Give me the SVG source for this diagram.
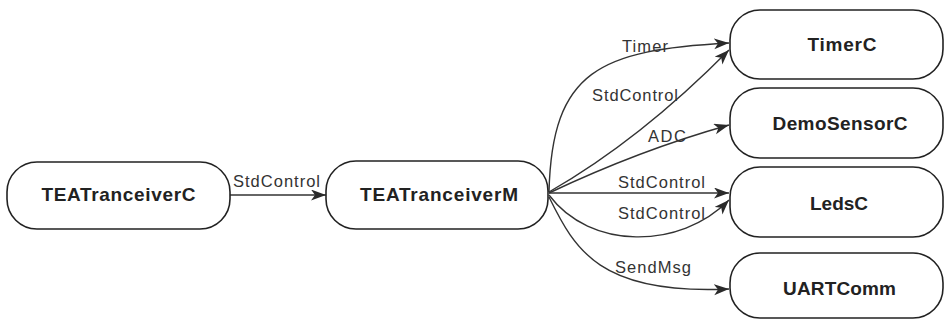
<svg xmlns="http://www.w3.org/2000/svg" width="945" height="320" viewBox="0 0 945 320">
<defs>
<marker id="arr" markerUnits="userSpaceOnUse" markerWidth="16" markerHeight="12" refX="15" refY="5.5" orient="auto">
<path d="M0,0 L15,5.5 L0,11 L4,5.5 z" fill="#2a2a2a"/>
</marker>
<style>
.node rect{fill:#fff;stroke:#222;stroke-width:1.6}
.node text{font-family:"Liberation Sans",Arial,sans-serif;font-weight:bold;font-size:19px;fill:#222;text-anchor:middle}
.edge{fill:none;stroke:#333;stroke-width:1.4;marker-end:url(#arr)}
.lbl{font-family:"Liberation Sans",Arial,sans-serif;font-size:16.5px;fill:#333}
</style>
</defs>
<rect width="945" height="320" fill="#fff"/>
<g id="connectors">
<path class="edge" d="M230,195 L326,195"/>
<path class="edge" d="M549,192 C552,70 600,50 729,43"/>
<path class="edge" d="M549,192 Q640,140 729,50"/>
<path class="edge" d="M549,193 Q640,150 729,125"/>
<path class="edge" d="M549,193 L729,193"/>
<path class="edge" d="M549,195 C590,250 680,250 729,200"/>
<path class="edge" d="M549,197 C575,250 600,295 729,289"/>
<text class="lbl" x="233" y="186.5" textLength="87" lengthAdjust="spacing">StdControl</text>
<text class="lbl" x="622" y="52" textLength="46" lengthAdjust="spacing">Timer</text>
<text class="lbl" x="592" y="101" textLength="86" lengthAdjust="spacing">StdControl</text>
<text class="lbl" x="648" y="142" textLength="38" lengthAdjust="spacing">ADC</text>
<text class="lbl" x="618" y="188" textLength="87" lengthAdjust="spacing">StdControl</text>
<text class="lbl" x="618" y="219" textLength="87" lengthAdjust="spacing">StdControl</text>
<text class="lbl" x="615" y="273" textLength="76" lengthAdjust="spacing">SendMsg</text>
</g>
<g id="TEATranceiverC" class="node">
<rect x="7" y="162" width="223" height="67" rx="30" ry="30"/>
<text x="118.5" y="200.5" textLength="154" lengthAdjust="spacing">TEATranceiverC</text>
</g>
<g id="TEATranceiverM" class="node">
<rect x="326" y="161" width="222" height="68" rx="30" ry="30"/>
<text x="439" y="200.5" textLength="158" lengthAdjust="spacing">TEATranceiverM</text>
</g>
<g id="TimerC" class="node">
<rect x="730" y="10" width="213" height="69" rx="30" ry="30"/>
<text x="842" y="50.5" textLength="69" lengthAdjust="spacing">TimerC</text>
</g>
<g id="DemoSensorC" class="node">
<rect x="730" y="88" width="213" height="70" rx="30" ry="30"/>
<text x="840" y="130" textLength="135" lengthAdjust="spacing">DemoSensorC</text>
</g>
<g id="LedsC" class="node">
<rect x="730" y="167" width="213" height="70" rx="30" ry="30"/>
<text x="839" y="210" textLength="58" lengthAdjust="spacing">LedsC</text>
</g>
<g id="UARTComm" class="node">
<rect x="730" y="253" width="213" height="65" rx="30" ry="30"/>
<text x="839.5" y="295" textLength="113" lengthAdjust="spacing">UARTComm</text>
</g>
</svg>
